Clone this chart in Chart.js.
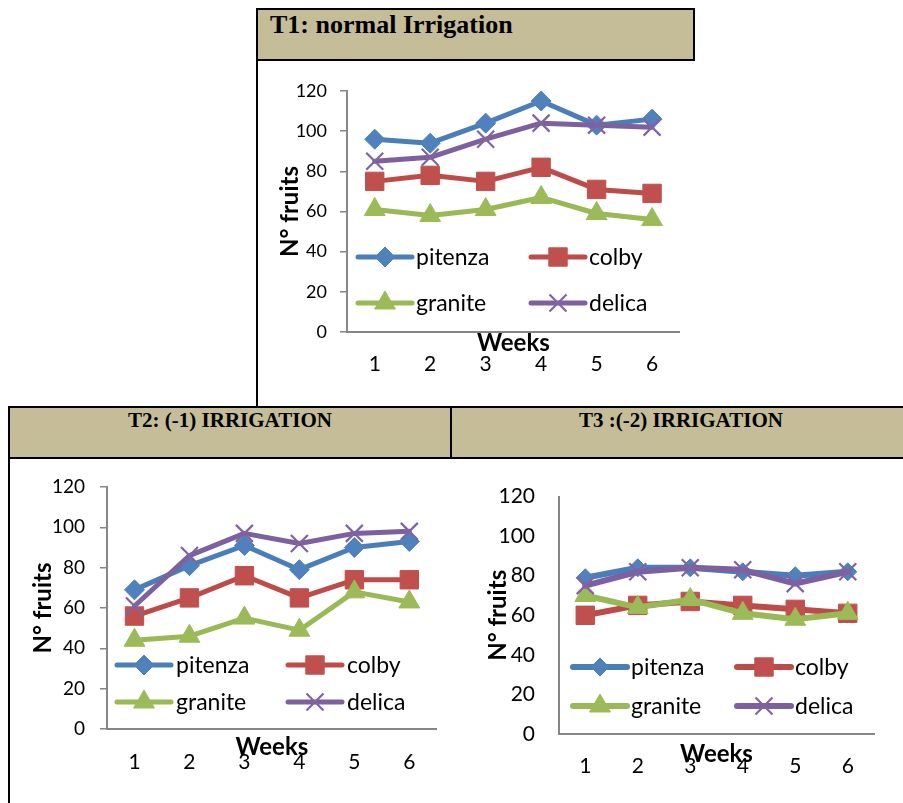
<!DOCTYPE html>
<html>
<head>
<meta charset="utf-8">
<script src="https://cdn.jsdelivr.net/npm/chart.js@4/dist/chart.umd.min.js"></script>
<style>
  html, body { margin: 0; padding: 0; background: #fff; }
  body { width: 903px; height: 803px; position: relative; overflow: hidden; }
  .hdr {
    position: absolute; box-sizing: border-box; background: #c4bd97;
    border: 2px solid #000; color: #000; font-weight: bold;
    font-family: "Liberation Serif", "Times New Roman", serif;
  }
  .rule { position: absolute; background: #000; }
  canvas { position: absolute; }
</style>
</head>
<body>
<div class="hdr" style="left:256px;top:8px;width:439px;height:53px;font-size:26px;line-height:30px;padding-left:12px;">T1: normal Irrigation</div>
<div class="rule" style="left:256px;top:60px;width:2px;height:347px;"></div>
<div class="hdr" style="left:8px;top:406px;width:444px;height:53px;font-size:21px;line-height:25px;text-align:center;">T2: (-1) IRRIGATION</div>
<div class="hdr" style="left:450px;top:406px;width:462px;height:53px;font-size:21px;line-height:25px;text-align:center;">T3 :(-2) IRRIGATION</div>
<div class="rule" style="left:8px;top:458px;width:2px;height:345px;"></div>

<canvas id="t1" width="436" height="344" style="left:258px;top:62px;width:436px;height:344px;"></canvas>
<canvas id="t2" width="441" height="343" style="left:10px;top:460px;width:441px;height:343px;"></canvas>
<canvas id="t3" width="450" height="343" style="left:453px;top:460px;width:450px;height:343px;"></canvas>

<script>
// Categories, series names and axis ticks
const weeks = ['1', '2', '3', '4', '5', '6'];
const varieties = ['pitenza', 'colby', 'granite', 'delica'];
const yTickValues = [0, 20, 40, 60, 80, 100, 120];

// T1: normal irrigation - number of fruits per week
const t1Pitenza = [96, 94, 104, 115, 103, 106];
const t1Colby   = [75, 78, 75, 82, 71, 69];
const t1Granite = [61, 58, 61, 67, 59, 56];
const t1Delica  = [85, 87, 96, 104, 103, 102];

// T2: (-1) irrigation
const t2Pitenza = [69, 81, 91, 79, 90, 93];
const t2Colby   = [56, 65, 76, 65, 74, 74];
const t2Granite = [44, 46, 55, 49, 68, 63];
const t2Delica  = [61, 86, 97, 92, 97, 98];

// T3: (-2) irrigation
const t3Pitenza = [79, 84, 84, 82, 80, 82];
const t3Colby   = [60, 65, 67, 65, 63, 61];
const t3Granite = [70, 64, 68, 61, 58, 61];
const t3Delica  = [75, 82, 84, 83, 76, 82];

// Series styling (line colour, marker fill, marker shape)
const SERIES_STYLE = [
  { line: '#4a7ebb', fill: '#4f81bd', shape: 'rectRot',  bw: 1 },
  { line: '#be4b48', fill: '#c0504d', shape: 'rect',     bw: 1 },
  { line: '#98b954', fill: '#9bbb59', shape: 'triangle', bw: 1 },
  { line: '#7d60a0', fill: '#8064a2', shape: 'crossRot', bw: 2.2 }
];
const AXIS_GREY = '#868686';
const FONT = 'Lato, "Open Sans", "DejaVu Sans", sans-serif';

function drawMarker(ctx, shape, x, y, r, fill, stroke, bw) {
  ctx.save();
  ctx.fillStyle = fill; ctx.strokeStyle = stroke; ctx.lineWidth = bw;
  ctx.lineCap = 'butt'; ctx.lineJoin = 'miter';
  ctx.beginPath();
  if (shape === 'rectRot') {
    ctx.moveTo(x, y - r); ctx.lineTo(x + r, y); ctx.lineTo(x, y + r); ctx.lineTo(x - r, y); ctx.closePath();
    ctx.fill(); ctx.stroke();
  } else if (shape === 'rect') {
    const s = r * Math.SQRT1_2;
    ctx.rect(x - s, y - s, 2 * s, 2 * s); ctx.fill(); ctx.stroke();
  } else if (shape === 'triangle') {
    const h = r * Math.sin(Math.PI / 3);
    ctx.moveTo(x, y - r); ctx.lineTo(x + h, y + r / 2); ctx.lineTo(x - h, y + r / 2); ctx.closePath();
    ctx.fill(); ctx.stroke();
  } else if (shape === 'crossRot') {
    const d = r * Math.SQRT1_2;
    ctx.moveTo(x - d, y - d); ctx.lineTo(x + d, y + d);
    ctx.moveTo(x + d, y - d); ctx.lineTo(x - d, y + d);
    ctx.stroke();
  }
  ctx.restore();
}

// Two-column legend drawn inside the plot area, near its bottom
const insideLegend = {
  id: 'insideLegend',
  afterDatasetsDraw(chart, args, opts) {
    const { ctx, chartArea: a } = chart;
    ctx.save();
    chart.data.datasets.forEach((ds, i) => {
      const st = SERIES_STYLE[i];
      const x0 = a.left + opts.cols[i % 2];
      const y = a.bottom - opts.rows[Math.floor(i / 2)];
      ctx.strokeStyle = st.line; ctx.lineWidth = ds.borderWidth; ctx.lineCap = 'round';
      ctx.beginPath(); ctx.moveTo(x0, y); ctx.lineTo(x0 + opts.lineLen, y); ctx.stroke();
      drawMarker(ctx, st.shape, x0 + opts.lineLen / 2, y, ds.pointRadius, st.fill, st.fill, st.bw);
      ctx.fillStyle = '#000';
      ctx.font = opts.fontSize + 'px ' + FONT;
      ctx.textAlign = 'left'; ctx.textBaseline = 'middle';
      ctx.fillText(ds.label, x0 + opts.lineLen + opts.gap, y + 1);
    });
    ctx.restore();
  }
};

function buildChart(id, values, L) {
  const canvas = document.getElementById(id);
  const W = canvas.width, H = canvas.height;
  const datasets = varieties.map((name, i) => {
    const st = SERIES_STYLE[i];
    return {
      label: name,
      data: values[i],
      borderColor: st.line,
      backgroundColor: st.fill,
      borderWidth: L.lineWidth,
      borderCapStyle: 'round',
      borderJoinStyle: 'round',
      tension: 0,
      pointStyle: st.shape,
      pointRadius: L.marker[i],
      pointBackgroundColor: st.fill,
      pointBorderColor: st.fill,
      pointBorderWidth: st.bw,
      order: varieties.length - i
    };
  });
  return new Chart(canvas, {
    type: 'line',
    data: { labels: weeks, datasets },
    plugins: [insideLegend],
    options: {
      responsive: false,
      devicePixelRatio: 1,
      animation: false,
      events: [],
      layout: {
        padding: {
          left: 0,
          top: L.area.top,
          right: W - L.area.right,
          bottom: H - L.area.bottom - L.xH
        }
      },
      plugins: {
        legend: { display: false },
        tooltip: { enabled: false },
        insideLegend: L.legend
      },
      scales: {
        x: {
          type: 'category',
          offset: true,
          grid: { display: true, drawOnChartArea: false, drawTicks: false },
          border: { display: true, color: AXIS_GREY, width: 2 },
          ticks: { color: '#000', font: { family: FONT, size: L.xTickSize }, padding: L.xTickPad, maxRotation: 0, autoSkip: false },
          title: {
            display: true, text: 'Weeks', color: '#000',
            font: { family: FONT, size: L.titleSize, weight: 'bold' },
            padding: { top: 0, bottom: L.xTitlePad }
          },
          afterFit(s) { s.height = L.xH; }
        },
        y: {
          min: yTickValues[0],
          max: yTickValues[yTickValues.length - 1],
          afterBuildTicks(s) { s.ticks = yTickValues.map(v => ({ value: v })); },
          grid: { display: true, drawOnChartArea: false, drawTicks: L.yTickMarks, tickLength: 7, color: AXIS_GREY, lineWidth: 1.5 },
          border: { display: true, color: AXIS_GREY, width: 2 },
          ticks: { color: '#000', font: { family: FONT, size: L.yTickSize }, padding: L.yTickPad },
          title: {
            display: true, text: 'N° fruits', color: '#000',
            font: { family: FONT, size: L.titleSize, weight: 'bold' },
            padding: { top: L.yTitlePad, bottom: 0 }
          },
          afterFit(s) { s.width = L.area.left; }
        }
      }
    }
  });
}

buildChart('t1', [t1Pitenza, t1Colby, t1Granite, t1Delica], {
  area: { left: 89, right: 431, top: 29, bottom: 270 },
  xH: 60, lineWidth: 5, marker: [10, 13, 12, 12],
  xTickSize: 21, xTickPad: 20, yTickSize: 18, yTickPad: 13, yTickMarks: true,
  titleSize: 24, xTitlePad: 34, yTitlePad: 18,
  legend: { cols: [11, 184], rows: [75, 29], lineLen: 54, gap: 4, fontSize: 23 }
});

buildChart('t2', [t2Pitenza, t2Colby, t2Granite, t2Delica], {
  area: { left: 97, right: 433, top: 27, bottom: 269 },
  xH: 60, lineWidth: 5, marker: [10, 13, 12, 12],
  xTickSize: 21, xTickPad: 21, yTickSize: 19, yTickPad: 15, yTickMarks: true,
  titleSize: 24, xTitlePad: 27, yTitlePad: 19,
  legend: { cols: [10, 181], rows: [64, 27], lineLen: 54, gap: 5, fontSize: 23 }
});

buildChart('t3', [t3Pitenza, t3Colby, t3Granite, t3Delica], {
  area: { left: 106, right: 421, top: 33, bottom: 274 },
  xH: 60, lineWidth: 6, marker: [9, 13, 12, 12],
  xTickSize: 21, xTickPad: 20, yTickSize: 21, yTickPad: 24, yTickMarks: false,
  titleSize: 24, xTitlePad: 25, yTitlePad: 31,
  legend: { cols: [14, 178], rows: [67, 28], lineLen: 54, gap: 4, fontSize: 23 }
});
</script>
</body>
</html>
